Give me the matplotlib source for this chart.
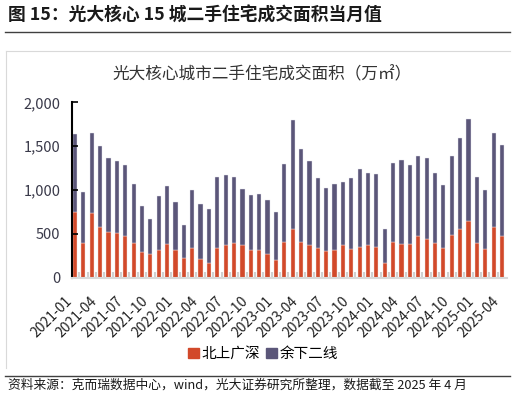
import matplotlib.pyplot as plt
from matplotlib.lines import Line2D
from matplotlib.patches import Patch

plt.rcParams['font.family'] = ['Noto Sans CJK SC', 'DejaVu Sans']

# 月份 2021-01 ~ 2025-04
months = [f"{y}-{m:02d}" for y in range(2021, 2026) for m in range(1, 13)][:52]

# 北上广深（万㎡）
tier1 = [751, 397, 740, 573, 519, 508, 477, 397, 288, 265, 314, 379,
         314, 219, 340, 208, 162, 340, 367, 397, 371, 314, 314, 272,
         204, 409, 557, 405, 371, 337, 299, 314, 367, 329, 352, 367,
         352, 162, 409, 379, 379, 474, 440, 397, 337, 489, 557, 642,
         397, 329, 573, 474]
# 合计（万㎡）
total = [1638, 980, 1653, 1505, 1368, 1326, 1284, 1067, 820, 668, 930, 1041,
         858, 599, 995, 835, 778, 1147, 1174, 1147, 1010, 942, 957, 888,
         751, 1299, 1794, 1463, 1326, 1132, 1025, 1067, 1094, 1132, 1242, 1189,
         1178, 557, 1310, 1338, 1284, 1384, 1368, 1189, 1052, 1384, 1589, 1806,
         1147, 995, 1653, 1516]
rest = [t - a for t, a in zip(total, tier1)]

red = '#d2492a'
purple = '#5b5679'

fig = plt.figure(figsize=(5.16, 3.97), dpi=100)

# 标题与分隔线
fig.text(8 / 516, 1 - 16 / 397, '图 15：光大核心 15 城二手住宅成交面积当月值',
         fontsize=12.8, fontweight='bold', va='center', ha='left', color='#1a1a1a')
fig.add_artist(Line2D([5 / 516, 510 / 516], [1 - 31.5 / 397] * 2, color='#404040', lw=1))
fig.add_artist(Line2D([5 / 516, 510 / 516], [1 - 376 / 397] * 2, color='#404040', lw=1))
# 浅灰色外框
fig.add_artist(Line2D([6 / 516, 510 / 516], [1 - 50.5 / 397] * 2, color='#d9d9d9', lw=0.8))
fig.add_artist(Line2D([6 / 516, 6 / 516], [1 - 50.5 / 397, 1 - 368 / 397], color='#d9d9d9', lw=0.8))

fig.text(262 / 516, 1 - 75 / 397, '光大核心城市二手住宅成交面积（万㎡）',
         fontsize=12, ha='center', va='center', color='#333333')

ax = fig.add_axes([71.5 / 516, 119.5 / 397, (507 - 71.5) / 516, (294.7 - 119.5) / 397])
x = list(range(len(months)))
ax.bar(x, tier1, width=0.5, color=red, edgecolor='#f0e0dc', linewidth=0.3)
ax.bar(x, rest, width=0.5, bottom=tier1, color=purple, edgecolor='#e6e4ee', linewidth=0.3)

ax.set_xlim(-0.42, 51.6)
ax.set_ylim(0, 2000)
ax.set_yticks([0, 500, 1000, 1500, 2000])
ax.set_yticklabels(['0', '500', '1,000', '1,500', '2,000'], fontsize=10.5, color='#3a3a4a')
ax.tick_params(axis='y', direction='in', length=4, width=1.2, color='black', pad=8)

ax.set_xticks(x[::3])
ax.set_xticklabels(months[::3], rotation=45, ha='right', fontsize=10, color='#222222')
ax.set_xticks([i + 0.5 for i in x[:-1]], minor=True)
ax.tick_params(axis='x', which='major', length=0, pad=12)
ax.tick_params(axis='x', which='minor', direction='in', length=4, color='#d0d0d0', width=1.5)

for s in ['top', 'right']:
    ax.spines[s].set_visible(False)
ax.spines['left'].set_color('black')
ax.spines['left'].set_linewidth(1.5)
ax.spines['bottom'].set_color('#d9d9d9')
ax.spines['bottom'].set_linewidth(1.5)

handles = [Patch(color=red, label='北上广深'), Patch(color=purple, label='余下二线')]
fig.legend(handles=handles, loc='center', bbox_to_anchor=(263 / 516, 1 - 354 / 397), ncol=2,
           frameon=False, fontsize=10.5, handlelength=0.75, handleheight=0.75,
           handletextpad=0.2, columnspacing=0.4)

fig.text(8 / 516, 1 - 385 / 397,
         '资料来源：克而瑞数据中心，wind，光大证券研究所整理，数据截至 2025 年 4 月',
         fontsize=9.2, ha='left', va='center', color='#1a1a1a')

fig.savefig('out.png', dpi=100)
